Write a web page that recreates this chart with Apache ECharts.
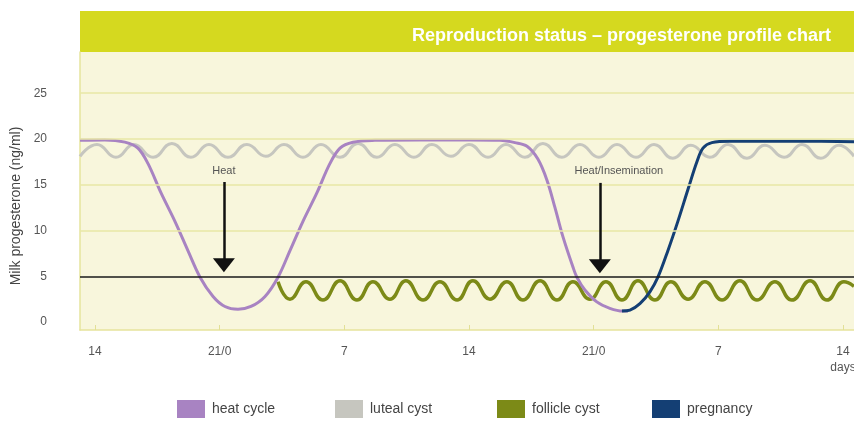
<!DOCTYPE html>
<html>
<head>
<meta charset="utf-8">
<script src="https://cdn.jsdelivr.net/npm/echarts@6/dist/echarts.min.js"></script>
<style>
html,body{margin:0;padding:0;background:#fff}
#container{width:854px;height:421px}
</style>
</head>
<body>
<div id="container"></div>
<script>
// x = days counted from the first "14" tick
const xTicks = [0, 7, 14, 21, 28, 35, 42]
const xLabels = ['14', '21/0', '7', '14', '21/0', '7', '14\ndays']
const yTicks = [0, 5, 10, 15, 20, 25]
const gridLines = [10, 15, 20, 25]
const threshold = 5

const heatDays = [-0.84, 0.56, 1.68, 2.41, 2.98, 3.71, 4.49, 5.22, 5.90, 6.63, 7.30, 8.03, 8.76, 9.55, 10.28, 10.95, 11.68, 12.46, 13.19, 13.76, 14.49, 15.72, 18.25, 21.06, 22.74, 23.58, 24.26, 24.87, 25.38, 25.83, 26.28, 26.84, 27.06, 27.51, 28.18, 28.91, 29.64, 29.93]
const heatValues = [19.85, 19.9, 19.65, 19.0, 17.3, 14.1, 11.0, 7.8, 4.9, 2.8, 1.7, 1.4, 1.7, 2.8, 4.9, 7.8, 11.0, 14.1, 17.3, 19.0, 19.65, 19.85, 19.9, 19.9, 19.85, 19.6, 19.2, 17.8, 15.5, 12.5, 9.3, 6.0, 4.9, 3.5, 2.2, 1.5, 1.2, 1.2]

const lutealDays = [-0.84, 0.11, 1.18, 2.19, 3.26, 4.32, 5.39, 6.40, 7.47, 8.53, 9.60, 10.61, 11.68, 12.69, 13.76, 14.77, 15.83, 16.84, 17.91, 18.92, 19.99, 21.00, 22.07, 23.08, 24.14, 25.15, 26.22, 27.23, 28.30, 29.31, 30.38, 31.39, 32.45, 33.46, 34.53, 35.54, 36.61, 37.62, 38.69, 39.70, 40.76, 41.77, 42.62]
const lutealValues = [18.1, 19.4, 18.0, 19.4, 18.0, 19.5, 18.0, 19.4, 18.0, 19.4, 18.1, 19.4, 18.0, 19.4, 18.0, 19.5, 18.0, 19.4, 18.0, 19.4, 18.1, 19.4, 18.0, 19.4, 18.0, 19.5, 18.0, 19.4, 18.0, 19.4, 18.0, 19.4, 17.9, 19.3, 18.0, 19.4, 17.9, 19.3, 18.0, 19.4, 17.9, 19.3, 18.1]

const follicleDays = [10.28, 10.95, 11.85, 12.80, 13.76, 14.71, 15.61, 16.56, 17.46, 18.42, 19.37, 20.33, 21.22, 22.18, 23.13, 24.03, 24.99, 25.94, 26.84, 27.79, 28.69, 29.59, 30.49, 31.44, 32.34, 33.30, 34.25, 35.21, 36.21, 37.17, 38.18, 39.13, 40.15, 41.10, 42.05, 42.62]
const follicleValues = [4.4, 2.5, 4.4, 2.4, 4.5, 2.4, 4.4, 2.5, 4.5, 2.4, 4.4, 2.4, 4.5, 2.5, 4.4, 2.4, 4.5, 2.4, 4.4, 2.5, 4.4, 2.4, 4.5, 2.4, 4.4, 2.5, 4.4, 2.4, 4.5, 2.4, 4.4, 2.4, 4.5, 2.4, 4.4, 3.9]

const pregDays = [29.59, 30.04, 30.60, 31.16, 31.61, 32.17, 32.73, 33.30, 33.80, 34.14, 34.64, 35.65, 39.58, 42.62]
const pregValues = [1.2, 1.3, 2.0, 3.3, 4.9, 7.8, 11.0, 14.5, 17.5, 19.0, 19.6, 19.75, 19.75, 19.7]

const arrowDays = [7.24, 28.35]
const arrowTop = [15.3, 15.2]
const arrowEnd = [6.2, 6.1]
const arrowTexts = ['Heat', 'Heat/Insemination']

const legendNames = ['heat cycle', 'luteal cyst', 'follicle cyst', 'pregnancy']

const font = 'Liberation Sans, Arial, sans-serif'
const zip = (xs, ys) => xs.map((x, i) => [x, ys[i]])

let instance = echarts.init(document.getElementById('container'))

let marks = gridLines.map(v => ({
  yAxis: v,
  lineStyle: { color: '#e9e7a6', width: 1.5, type: 'solid' }
}))
marks.push({ yAxis: threshold, lineStyle: { color: '#1a1a1a', width: 1.5, type: 'solid' } })
arrowDays.forEach((d, i) => {
  marks.push([
    {
      coord: [d, arrowTop[i]],
      symbol: 'none',
      lineStyle: { color: '#111', width: 2.5, type: 'solid' },
      label: {
        show: true, position: 'start', distance: 6,
        formatter: arrowTexts[i], color: '#555', fontSize: 11, fontFamily: font,
        padding: i === 1 ? [0, 0, 0, 38] : 0
      }
    },
    { coord: [d, arrowEnd[i]], symbol: 'triangle', symbolSize: [22, 14] }
  ])
})

// one legend per item so the spacing matches the original
const legendLeft = [177, 335, 497, 652]
let legends = legendNames.map((n, i) => ({
  left: legendLeft[i], top: 400, padding: 0,
  itemWidth: 28, itemHeight: 18,
  icon: 'rect',
  textStyle: { color: '#444', fontFamily: font, fontSize: 14, padding: [0, 0, 0, 2] },
  data: [n]
}))

instance.setOption({
  animation: false,
  title: {
    text: 'Reproduction status – progesterone profile chart',
    right: 18, top: 22,
    textStyle: { color: '#fff', fontSize: 18, fontWeight: 'bold', fontFamily: font }
  },
  graphic: [{
    type: 'rect', left: 80, top: 11, z: -1,
    shape: { width: 774, height: 41 },
    style: { fill: '#d5d91f' }
  }],
  legend: legends,
  grid: {
    left: 80, right: 0, top: 52, bottom: 91,
    outerBoundsMode: 'none',
    show: true, backgroundColor: '#f8f6dc', borderWidth: 0
  },
  xAxis: {
    type: 'value', min: -0.84, max: 42.62,
    axisLine: { onZero: false, lineStyle: { color: '#e6e49c', width: 1.5 } },
    axisTick: { show: true, inside: true, length: 5, customValues: xTicks, lineStyle: { color: '#e2e096' } },
    axisLabel: {
      customValues: xTicks,
      formatter: v => xLabels[xTicks.indexOf(v)],
      color: '#555', fontSize: 12, lineHeight: 16, margin: 14, fontFamily: font
    },
    splitLine: { show: false }
  },
  yAxis: {
    type: 'value', min: -0.87, max: 29.5,
    name: 'Milk progesterone (ng/ml)', nameLocation: 'middle', nameGap: 55, nameRotate: 90,
    nameTextStyle: { color: '#444', fontSize: 14, fontFamily: font, padding: [0, 30, 0, 0] },
    axisLine: { show: true, onZero: false, lineStyle: { color: '#e6e49c', width: 1.5 } },
    axisTick: { show: false },
    axisLabel: {
      color: '#555', fontSize: 12, margin: 33, fontFamily: font,
      formatter: v => yTicks.includes(v) ? v : ''
    },
    splitLine: { show: false }
  },
  series: [
    {
      name: 'luteal cyst', type: 'line', data: zip(lutealDays, lutealValues),
      smooth: 0.5, symbol: 'none',
      lineStyle: { color: '#c6c6bf', width: 3 }, itemStyle: { color: '#c6c6bf' }
    },
    {
      name: 'follicle cyst', type: 'line', data: zip(follicleDays, follicleValues),
      smooth: 0.5, symbol: 'none',
      lineStyle: { color: '#7c8a17', width: 3.5 }, itemStyle: { color: '#7c8a17' }
    },
    {
      name: 'heat cycle', type: 'line', data: zip(heatDays, heatValues),
      smooth: 0.35, symbol: 'none',
      lineStyle: { color: '#a883c2', width: 3 }, itemStyle: { color: '#a883c2' },
      markLine: { silent: true, symbol: ['none', 'none'], label: { show: false }, data: marks }
    },
    {
      name: 'pregnancy', type: 'line', data: zip(pregDays, pregValues),
      smooth: 0.35, symbol: 'none',
      lineStyle: { color: '#143f74', width: 3 }, itemStyle: { color: '#143f74' }
    }
  ]
})
</script>
</body>
</html>
